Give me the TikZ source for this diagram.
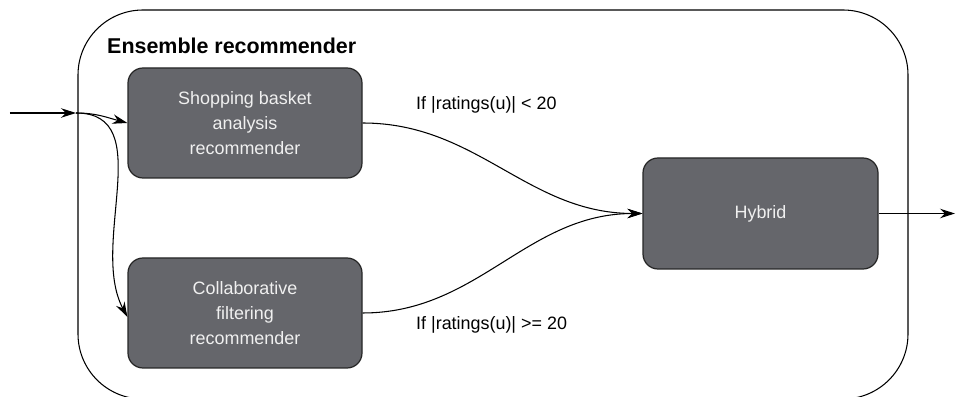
\documentclass[tikz,border=0pt]{standalone}
\usepackage{fontspec}
\setmainfont{Liberation Sans}
\usetikzlibrary{arrows.meta}
\definecolor{boxgray}{RGB}{101,102,107}
\definecolor{boxtext}{RGB}{240,240,240}

\begin{document}
\begin{tikzpicture}[
  recbox/.style = {draw=black!85, fill=boxgray, text=boxtext, rounded corners=0.3cm,
    minimum width=4.68cm, minimum height=2.2cm, align=center,
    font=\fontsize{10.2}{14.2}\selectfont, line width=0.7pt},
  flow/.style = {-{Stealth[length=0.3cm, width=0.19cm, inset=0.1cm]}, line width=0.6pt},
  cond/.style = {anchor=west, font=\fontsize{10.2}{12}\selectfont}
]
\useasboundingbox (0,0) rectangle (19.16,7.94);

% Draw the ensemble frame
\draw[line width=0.6pt, rounded corners=1.3cm] (1.56,-0.04) rectangle (18.16,7.74);
\node[anchor=west, font=\fontsize{12.2}{14}\selectfont\bfseries] (title) at (2.02,7.02) {Ensemble recommender};

% recommenders
\node[recbox] (basket) at (4.9,5.48) {Shopping basket\\analysis\\recommender};
\node[recbox] (collab) at (4.9,1.68) {Collaborative\\filtering\\recommender};
\node[recbox, minimum width=4.7cm, minimum height=2.22cm] (hybrid) at (15.21,3.67) {Hybrid};

% input, split and output
\coordinate (in) at (0.2,5.68);
\coordinate (split) at (1.52,5.68);
\coordinate (out) at (19.1,3.67);

\draw[flow] (in) -- (split);
\draw[flow] (split) to[out=0, in=165] (basket.west);
\draw[flow] (split) to[out=0, in=118] ([yshift=-0.08cm]collab.west);

\draw[flow] (basket.east) to[out=0, in=180] (hybrid.west);
\draw[flow] (collab.east) to[out=0, in=180] (hybrid.west);
\draw[flow] (hybrid.east) -- (out);

% conditions
\node[cond] (lowcount) at (8.2,5.84) {If |ratings(u)| < 20};
\node[cond] (highcount) at (8.2,1.44) {If |ratings(u)| >= 20};

\end{tikzpicture}
\end{document}
